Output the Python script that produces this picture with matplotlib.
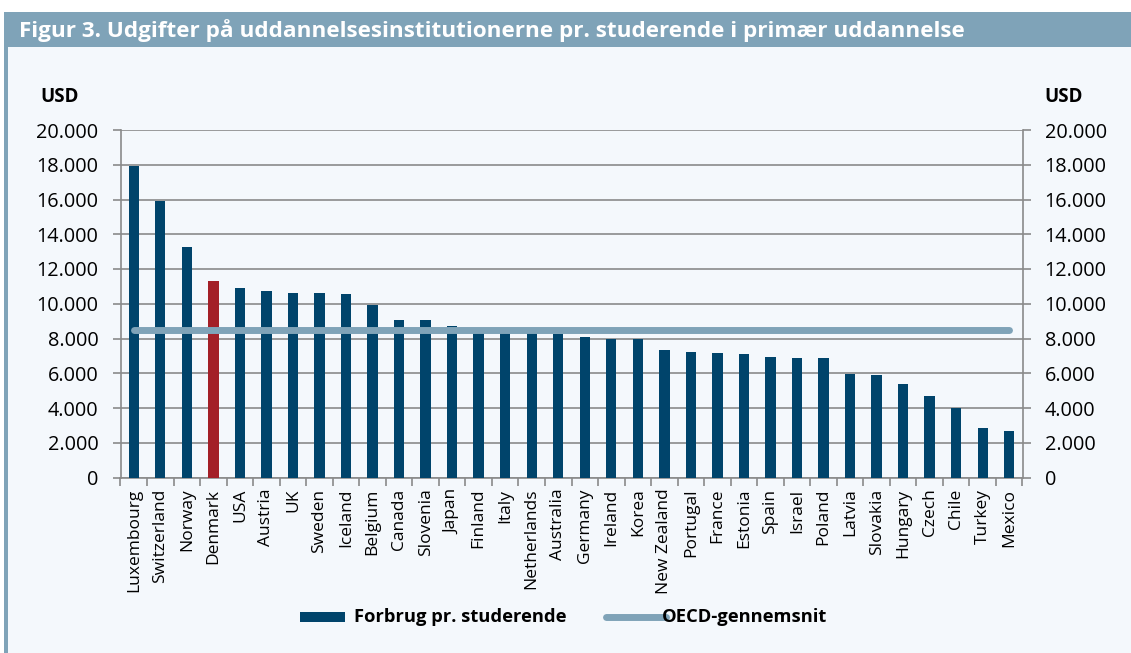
import matplotlib
matplotlib.use("Agg")
import matplotlib.pyplot as plt
from matplotlib.patches import Rectangle
from matplotlib.lines import Line2D

countries = ["Luxembourg", "Switzerland", "Norway", "Denmark", "USA", "Austria", "UK",
             "Sweden", "Iceland", "Belgium", "Canada", "Slovenia", "Japan", "Finland",
             "Italy", "Netherlands", "Australia", "Germany", "Ireland", "Korea",
             "New Zealand", "Portugal", "France", "Estonia", "Spain", "Israel", "Poland",
             "Latvia", "Slovakia", "Hungary", "Czech", "Chile", "Turkey", "Mexico"]
spending = [17950, 15900, 13240, 11300, 10920, 10730, 10630, 10630, 10540, 9920,
            9080, 9080, 8700, 8320, 8300, 8300, 8280, 8090, 7990, 7950,
            7340, 7240, 7190, 7110, 6940, 6900, 6880, 5930, 5910, 5390,
            4680, 3990, 2850, 2680]
oecd_avg = 8470
yticks = [0, 2000, 4000, 6000, 8000, 10000, 12000, 14000, 16000, 18000, 20000]
ytick_labels = ["0", "2.000", "4.000", "6.000", "8.000", "10.000", "12.000",
                "14.000", "16.000", "18.000", "20.000"]
highlight = "Denmark"

BAR = "#00446b"
RED = "#a31f27"
LINE = "#7fa3b8"
GRID = "#8a8a8a"
BG = "#f4f8fc"
FONT = "Open Sans"

W, H = 1131, 653
fig = plt.figure(figsize=(W / 100, H / 100), dpi=100)
fig.patch.set_facecolor("white")

# panel background
fig.add_artist(Rectangle((8 / W, 0), 1 - 8 / W, 1 - 47 / H, transform=fig.transFigure,
                         facecolor=BG, edgecolor="none", zorder=0))
# left border
fig.add_artist(Rectangle((4 / W, 0), 4 / W, 1 - 47 / H, transform=fig.transFigure,
                         facecolor=LINE, edgecolor="none", zorder=1))
# title bar
fig.add_artist(Rectangle((4 / W, 1 - 47 / H), 1 - 4 / W, 35 / H, transform=fig.transFigure,
                         facecolor=LINE, edgecolor="none", zorder=1))
fig.text(19 / W, 1 - 31 / H, "Figur 3. Udgifter på uddannelsesinstitutionerne pr. studerende i primær uddannelse",
         color="white", fontsize=16.2, fontweight="bold", family=FONT, va="center", ha="left")

left, right = 120.5 / W, 1022.5 / W
bottom, top = 1 - 477.5 / H, 1 - 130 / H
ax = fig.add_axes([left, bottom, right - left, top - bottom])
ax.set_facecolor("none")

x = list(range(len(countries)))
colors = [RED if c == highlight else BAR for c in countries]
ax.bar(x, spending, width=0.39, color=colors, zorder=3)
ax.plot([x[0], x[-1]], [oecd_avg, oecd_avg], color=LINE, lw=5, solid_capstyle="round", zorder=4)

ax.set_xlim(-0.5, len(countries) - 0.5)
ax.set_ylim(0, 20000)
ax.set_yticks(yticks)
ax.set_yticklabels(ytick_labels, family=FONT, fontsize=14)
ax.yaxis.grid(True, color=GRID, lw=1.2, zorder=1)
ax.set_axisbelow(True)
ax.tick_params(axis="y", which="both", direction="out", length=6, color=GRID, width=1.2,
               right=True, labelright=True, pad=10, labelsize=14.3)
for t in ax.yaxis.get_major_ticks():
    t.label1.set_family(FONT)
    t.label2.set_family(FONT)

ax.set_xticks([i + 0.5 for i in range(-1, len(countries))], minor=True)
ax.set_xticks(x)
ax.set_xticklabels(countries, rotation=90, family=FONT, fontsize=12.5, va="top", ha="center")
ax.tick_params(axis="x", which="major", length=0, pad=8)
ax.tick_params(axis="x", which="minor", direction="out", length=6, color=GRID, width=1.2)

for s in ["left", "right", "bottom", "top"]:
    ax.spines[s].set_color(GRID)
    ax.spines[s].set_linewidth(1.2)
ax.spines["top"].set_visible(False)

fig.text(40 / W, 1 - 97 / H, "USD", fontsize=13.5, fontweight="bold", family=FONT, va="center", ha="left")
fig.text(1044 / W, 1 - 97 / H, "USD", fontsize=13.5, fontweight="bold", family=FONT, va="center", ha="left")

# legend
ly = 1 - 617 / H
fig.add_artist(Rectangle((300 / W, 1 - 622 / H), 45 / W, 10 / H, transform=fig.transFigure,
                         facecolor=BAR, edgecolor="none"))
fig.text(354 / W, ly, "Forbrug pr. studerende", fontsize=13.2, fontweight="bold", family=FONT,
         va="center", ha="left")
fig.add_artist(Line2D([606 / W, 666 / W], [ly, ly], transform=fig.transFigure, color=LINE,
                      lw=5, solid_capstyle="round"))
fig.text(662 / W, ly, "OECD-gennemsnit", fontsize=13.2, fontweight="bold", family=FONT,
         va="center", ha="left")

fig.savefig("out.png", dpi=100, facecolor=fig.get_facecolor())
